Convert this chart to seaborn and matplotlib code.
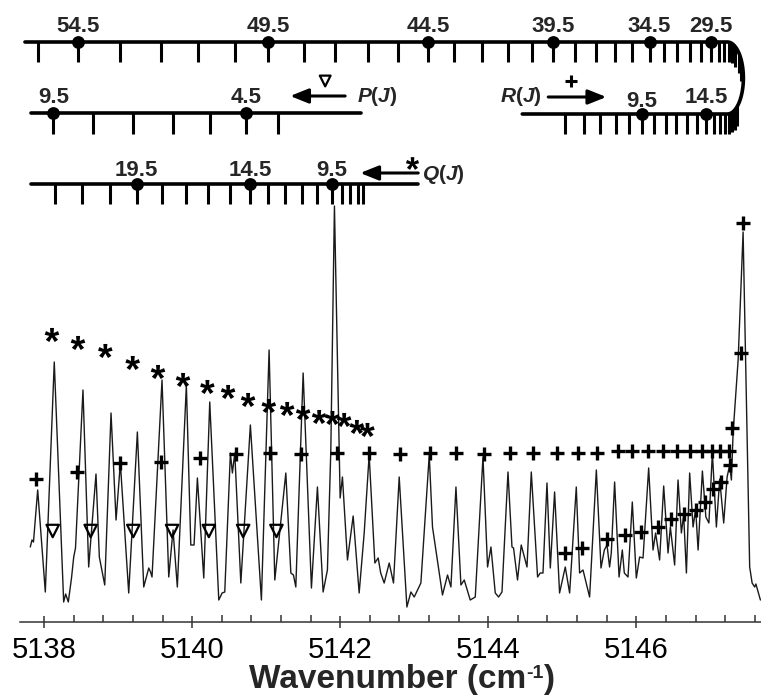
import numpy as np
import pandas as pd
import matplotlib
matplotlib.use("Agg")
import matplotlib.pyplot as plt
import seaborn as sns
from matplotlib.ticker import MultipleLocator, FormatStrFormatter
from matplotlib.textpath import TextPath
from matplotlib.font_manager import FontProperties
from matplotlib.path import Path
from matplotlib.markers import MarkerStyle
from matplotlib.transforms import IdentityTransform

# ---------------- spectrum trace (wavenumber / cm-1, intensity / arb. units) ----------------
wavenumber = [
    5137.811, 5137.834, 5137.854, 5137.911, 5138.014, 5138.135, 5138.262, 5138.289, 5138.325, 5138.368,
    5138.398, 5138.422, 5138.523, 5138.600, 5138.699, 5138.744, 5138.817, 5138.902, 5138.970, 5139.028,
    5139.141, 5139.258, 5139.344, 5139.412, 5139.436, 5139.456, 5139.591, 5139.682, 5139.740, 5139.798,
    5139.920, 5139.980, 5140.024, 5140.069, 5140.155, 5140.236, 5140.358, 5140.403, 5140.439, 5140.515,
    5140.542, 5140.574, 5140.656, 5140.785, 5140.934, 5141.038, 5141.115, 5141.264, 5141.332, 5141.367,
    5141.399, 5141.498, 5141.610, 5141.691, 5141.768, 5141.826, 5141.872, 5141.921, 5141.998, 5142.029,
    5142.097, 5142.174, 5142.255, 5142.323, 5142.390, 5142.467, 5142.512, 5142.546, 5142.593, 5142.661,
    5142.719, 5142.796, 5142.900, 5142.954, 5142.999, 5143.089, 5143.202, 5143.246, 5143.381, 5143.449,
    5143.495, 5143.563, 5143.630, 5143.675, 5143.695, 5143.756, 5143.824, 5143.928, 5143.990, 5144.036,
    5144.094, 5144.139, 5144.185, 5144.266, 5144.320, 5144.341, 5144.395, 5144.445, 5144.523, 5144.581,
    5144.666, 5144.702, 5144.739, 5144.793, 5144.838, 5144.896, 5144.963, 5145.040, 5145.099, 5145.189,
    5145.234, 5145.280, 5145.369, 5145.460, 5145.523, 5145.568, 5145.604, 5145.639, 5145.662, 5145.707,
    5145.767, 5145.811, 5145.838, 5145.888, 5145.946, 5146.000, 5146.045, 5146.091, 5146.167, 5146.226,
    5146.261, 5146.315, 5146.370, 5146.429, 5146.460, 5146.518, 5146.564, 5146.609, 5146.640, 5146.677,
    5146.721, 5146.767, 5146.802, 5146.835, 5146.893, 5146.940, 5146.981, 5147.028, 5147.082, 5147.127,
    5147.181, 5147.227, 5147.262, 5147.285, 5147.308, 5147.376, 5147.443, 5147.488, 5147.532, 5147.565,
    5147.600, 5147.616, 5147.646, 5147.677,
]
intensity = [
    0.65, 0.72, 0.70, 1.22, 0.20, 2.50, 0.10, 0.18, 0.10, 0.34,
    0.55, 0.64, 2.22, 0.45, 1.38, 0.55, 0.27, 1.99, 0.92, 1.49,
    0.19, 1.80, 0.25, 0.44, 0.40, 0.35, 2.32, 0.35, 0.82, 0.25,
    2.27, 0.67, 0.67, 1.34, 0.34, 2.10, 0.12, 0.19, 0.20, 1.59,
    1.39, 1.59, 0.29, 1.87, 0.12, 2.62, 0.32, 1.39, 0.39, 0.37,
    0.25, 2.39, 0.24, 1.25, 0.20, 0.42, 1.62, 4.06, 1.14, 1.35,
    0.52, 0.96, 0.19, 0.79, 1.57, 0.49, 0.54, 0.39, 0.29, 0.49,
    0.29, 1.35, 0.05, 0.20, 0.15, 0.29, 1.57, 0.85, 0.17, 0.37,
    0.25, 1.25, 0.27, 0.32, 0.27, 0.12, 0.15, 1.55, 0.45, 0.65,
    0.19, 0.15, 0.20, 1.40, 0.65, 0.64, 0.32, 0.67, 0.45, 1.40,
    0.35, 0.39, 0.39, 1.29, 0.44, 1.20, 0.19, 0.45, 0.19, 1.25,
    0.39, 0.42, 0.15, 1.42, 0.44, 0.62, 0.67, 0.45, 0.59, 1.30,
    0.35, 0.62, 0.39, 0.35, 1.10, 0.34, 0.55, 0.54, 1.44, 0.62,
    0.79, 0.52, 1.26, 0.59, 0.85, 0.47, 1.32, 0.79, 0.97, 0.39,
    1.39, 0.85, 1.03, 0.62, 1.41, 0.95, 0.89, 1.59, 0.85, 1.33,
    0.89, 1.35, 1.47, 1.32, 1.79, 2.52, 3.80, 2.12, 0.45, 0.29,
    0.25, 0.28, 0.20, 0.12,
]

# ---------------- line assignments marked in the spectrum ----------------
# Q branch (*)
q_mark_x = [5138.104, 5138.456, 5138.825, 5139.195, 5139.537, 5139.875, 5140.204, 5140.484, 5140.754,
            5141.034, 5141.282, 5141.498, 5141.714, 5141.894, 5142.052, 5142.224, 5142.367]
q_mark_y = [2.77, 2.69, 2.61, 2.49, 2.40, 2.32, 2.25, 2.20, 2.12,
            2.06, 2.03, 1.99, 1.95, 1.94, 1.92, 1.85, 1.82]
# P branch (open triangles)
p_mark_x = [5138.114, 5138.627, 5139.203, 5139.727, 5140.224, 5140.687, 5141.137]
p_mark_y = [0.81, 0.81, 0.81, 0.81, 0.81, 0.81, 0.81]
# R branch (+), high-J lines and low-J lines running into the band head
r_mark_x = [5137.888, 5138.442, 5139.028, 5139.582, 5140.101, 5140.596, 5141.056, 5141.475, 5141.954,
            5142.390, 5142.805, 5143.211, 5143.563, 5143.936, 5144.297, 5144.604, 5144.928, 5145.207,
            5145.469, 5145.753, 5145.946, 5146.159, 5146.361, 5146.551, 5146.721, 5146.893, 5147.028,
            5147.127, 5147.254,
            5145.040, 5145.266, 5145.608, 5145.842, 5146.059, 5146.294, 5146.474, 5146.640, 5146.802,
            5146.924, 5147.038, 5147.150, 5147.262, 5147.298, 5147.420, 5147.443]
r_mark_y = [1.33, 1.40, 1.49, 1.50, 1.54, 1.58, 1.59, 1.58, 1.59,
            1.59, 1.58, 1.59, 1.59, 1.58, 1.59, 1.59, 1.59, 1.59,
            1.59, 1.61, 1.61, 1.61, 1.61, 1.61, 1.61, 1.61, 1.61,
            1.61, 1.61,
            0.59, 0.64, 0.73, 0.77, 0.80, 0.85, 0.93, 0.98, 1.02,
            1.10, 1.23, 1.30, 1.47, 1.84, 2.59, 3.89]

# ---------------- assignment ladders (line positions in cm-1) ----------------
# R branch, J = 55.5 ... band head (upper row)
r_upper_ticks = [5137.911, 5138.456, 5139.024, 5139.578, 5140.078, 5140.578, 5141.025, 5141.511, 5141.931,
                 5142.377, 5142.782, 5143.188, 5143.540, 5143.918, 5144.270, 5144.594, 5144.878, 5145.176,
                 5145.460, 5145.716, 5145.942, 5146.180, 5146.370, 5146.551, 5146.721, 5146.875, 5147.015,
                 5147.113, 5147.190, 5147.248, 5147.292, 5147.339, 5147.386, 5147.420]
r_upper_dot_x = [5138.456, 5141.025, 5143.188, 5144.878, 5146.180, 5147.015]
r_upper_dot_lbl = ["54.5", "49.5", "44.5", "39.5", "34.5", "29.5"]
# R branch, J = 4.5 ... band head (lower row)
r_lower_ticks = [5145.040, 5145.288, 5145.514, 5145.723, 5145.906, 5146.072, 5146.244, 5146.406, 5146.541,
                 5146.686, 5146.821, 5146.947, 5147.046, 5147.127, 5147.194, 5147.248, 5147.294, 5147.332,
                 5147.367]
r_lower_dot_x = [5146.072, 5146.947]
r_lower_dot_lbl = ["9.5", "14.5"]
# P branch, J = 9.5 ... 3.5
p_ticks = [5138.122, 5138.654, 5139.203, 5139.736, 5140.240, 5140.727, 5141.164]
p_dot_x = [5138.122, 5140.727]
p_dot_lbl = ["9.5", "4.5"]
# Q branch, J = 22.5 ... 5.5
q_ticks = [5138.145, 5138.506, 5138.888, 5139.249, 5139.595, 5139.912, 5140.217, 5140.511, 5140.781,
           5141.029, 5141.255, 5141.480, 5141.683, 5141.886, 5142.021, 5142.133, 5142.246, 5142.309]
q_dot_x = [5139.249, 5140.781, 5141.886]
q_dot_lbl = ["19.5", "14.5", "9.5"]

# ---------------- style ----------------
sns.set_theme(style="ticks")
plt.rcParams.update({
    "font.family": ["Liberation Sans", "DejaVu Sans"],
    "mathtext.fontset": "custom",
    "mathtext.rm": "Liberation Sans:bold",
    "mathtext.it": "Liberation Sans:bold:italic",
    "mathtext.bf": "Liberation Sans:bold",
})

W, H = 761, 696
fig = plt.figure(figsize=(W / 100, H / 100), dpi=100)
ax = fig.add_axes([20 / W, 74.3 / H, 741 / W, 621.7 / H])

spec = pd.DataFrame({"wavenumber": wavenumber, "intensity": intensity})
sns.lineplot(data=spec, x="wavenumber", y="intensity", sort=False, estimator=None,
             color="#1a1a1a", lw=1.0, ax=ax, zorder=2)

# asterisk marker built from the font glyph, centred on its own outline
_ast = TextPath((0, 0), "*", size=1, prop=FontProperties(family="Liberation Sans", weight="bold"))
_v = _ast.vertices.copy()
_c = _ast.codes.copy()
_real = _c != Path.CLOSEPOLY
_v -= (_v[_real].min(axis=0) + _v[_real].max(axis=0)) / 2
_v[~_real] = 0.0
star = MarkerStyle(Path(_v, _c))

sns.scatterplot(x=q_mark_x, y=q_mark_y, marker=star, s=110, color="black", edgecolor="none",
                linewidth=0, ax=ax, zorder=4)
sns.scatterplot(x=p_mark_x, y=p_mark_y, marker="v", s=80, color="none", edgecolor="black",
                linewidth=1.6, ax=ax, zorder=4)
sns.scatterplot(x=r_mark_x, y=r_mark_y, marker="+", s=110, color="black", linewidth=2.4,
                ax=ax, zorder=4)

# ---------------- ladders ----------------
LINE_LW, TICK_LW, TICK_LEN, DOT_S = 2.6, 2.2, 0.20, 85
Y_R_TOP, Y_R_LOW, Y_P, Y_Q = 5.70, 4.98, 4.985, 4.28
ARC_X, ARC_RX = 5147.231, 0.216
ARC_Y, ARC_RY = (Y_R_TOP + Y_R_LOW) / 2, (Y_R_TOP - Y_R_LOW) / 2


def arc_y(x, upper):
    u = np.clip((np.asarray(x) - ARC_X) / ARC_RX, 0, 1)
    return ARC_Y + (1 if upper else -1) * ARC_RY * np.sqrt(1 - u ** 2)


def hang(xs, tops):
    tops = np.asarray(tops, dtype=float)
    ax.vlines(xs, tops - TICK_LEN, tops, colors="black", lw=TICK_LW, zorder=3)


def label(x, base, s):
    ax.text(x, base, s, ha="center", va="baseline", fontsize=16, fontweight="bold")


def dots(xs, y, labels, base):
    ax.scatter(xs, np.full(len(xs), y), s=DOT_S, color="black", zorder=5, linewidths=0)
    for x, s in zip(xs, labels):
        label(x, base, s)


# R branch: upper row, turning point at the band head, lower row
t = np.linspace(0, np.pi, 80)
rx = np.concatenate([[5137.739], ARC_X + ARC_RX * np.sin(t), [5144.459]])
ry = np.concatenate([[Y_R_TOP], ARC_Y + ARC_RY * np.cos(t), [Y_R_LOW]])
ax.plot(rx, ry, color="black", lw=LINE_LW, solid_joinstyle="round", zorder=3)
hang(r_upper_ticks, arc_y(r_upper_ticks, True))
hang(r_lower_ticks, arc_y(r_lower_ticks, False))
dots(r_upper_dot_x, Y_R_TOP, r_upper_dot_lbl, 5.795)
ax.scatter(r_lower_dot_x, [Y_R_LOW] * 2, s=DOT_S, color="black", zorder=5, linewidths=0)
label(r_lower_dot_x[0], 5.05, r_lower_dot_lbl[0])
label(r_lower_dot_x[1], 5.09, r_lower_dot_lbl[1])

# P branch
ax.plot([5137.820, 5142.282], [Y_P, Y_P], color="black", lw=LINE_LW, zorder=3)
hang(p_ticks, [Y_P] * len(p_ticks))
dots(p_dot_x, Y_P, p_dot_lbl, 5.09)

# Q branch
ax.plot([5137.820, 5143.053], [Y_Q, Y_Q], color="black", lw=LINE_LW, zorder=3)
hang(q_ticks, [Y_Q] * len(q_ticks))
dots(q_dot_x, Y_Q, q_dot_lbl, 4.36)

# branch keys: arrow, marker symbol and branch name
arrow = dict(arrowstyle="-|>,head_length=0.55,head_width=0.22", color="black", lw=2.2,
             mutation_scale=20, shrinkA=0, shrinkB=0)
key_font = dict(fontsize=15, ha="left", va="baseline", fontweight="bold")
ax.annotate("", xy=(5141.322, 5.16), xytext=(5142.066, 5.16), arrowprops=arrow, zorder=5)
ax.scatter([5141.796], [5.31], marker="v", s=60, facecolors="none", edgecolors="black", linewidths=1.6, zorder=5)
ax.text(5142.227, 5.10, r"$P$($J$)", **key_font)

ax.annotate("", xy=(5145.595, 5.15), xytext=(5144.810, 5.15), arrowprops=arrow, zorder=5)
ax.scatter([5145.122], [5.31], marker="+", s=80, color="black", linewidths=2.2, zorder=5)
ax.text(5144.162, 5.10, r"$R$($J$)", **key_font)

ax.annotate("", xy=(5142.269, 4.39), xytext=(5143.053, 4.39), arrowprops=arrow, zorder=5)
ax.scatter([5142.972], [4.49], marker=star, s=90, color="black", linewidths=0, zorder=5)
ax.text(5143.103, 4.32, r"$Q$($J$)", **key_font)

# ---------------- axes ----------------
ax.set_xlim(5137.672, 5147.685)
ax.set_ylim(-0.097, 6.12)
ax.set_yticks([])
ax.set_ylabel("")
ax.set_xlabel("")
sns.despine(ax=ax, left=True)
ax.spines["bottom"].set_color("#333333")
ax.spines["bottom"].set_linewidth(1.1)
ax.xaxis.set_major_locator(MultipleLocator(2))
ax.xaxis.set_minor_locator(MultipleLocator(0.4))
ax.xaxis.set_major_formatter(FormatStrFormatter("%d"))
ax.tick_params(axis="x", which="major", direction="inout", length=9, width=1.1, color="#333333",
               labelsize=21, pad=6, labelcolor="black", bottom=True)
ax.tick_params(axis="x", which="minor", direction="in", length=5, width=1.1, color="#333333", bottom=True)
ax.patch.set_visible(False)

# axis title with a raised "-1" (pixel placement, centred under the spectrum)
fig.canvas.draw()
rend = fig.canvas.get_renderer()
pix = IdentityTransform()
pieces = [("Wavenumber (cm", 24, 0), ("-1", 14, 10), (")", 24, 0)]
texts = [fig.text(0, 0, s, fontsize=fs, fontweight="bold", transform=pix, ha="left", va="baseline")
         for s, fs, _ in pieces]
widths = [tx.get_window_extent(rend).width for tx in texts]
x_cur = 401.5 - sum(widths) / 2
for tx, (s, fs, lift), w in zip(texts, pieces, widths):
    tx.set_position((x_cur, 8 + lift))
    x_cur += w

fig.savefig("out.png", dpi=100, facecolor="white")
